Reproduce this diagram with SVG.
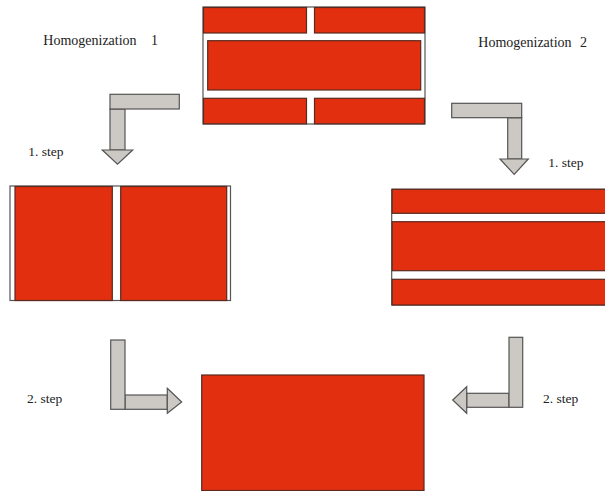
<svg xmlns="http://www.w3.org/2000/svg" width="605" height="491" viewBox="0 0 605 491">
<style>
.brick{fill:#E12F10;stroke:#5a2a1e;stroke-width:1.2}
.frame{fill:#fff;stroke:#555;stroke-width:1.2}
.arr{fill:#CCC8C4;stroke:#555;stroke-width:1.2;stroke-linejoin:miter}
.lbl{font-family:"Liberation Serif","Times New Roman",serif;font-size:14px;fill:#222}
.stp{font-family:"Liberation Serif","Times New Roman",serif;font-size:13.5px;fill:#222}
</style>
<rect width="605" height="491" fill="#fff"/>
<g id="top-node">
<rect class="frame" x="203" y="7" width="222" height="117"/>
<rect class="brick" x="203.5" y="7.5" width="103" height="25.5"/>
<rect class="brick" x="314.5" y="7.5" width="110" height="25.5"/>
<rect class="brick" x="207.7" y="40.7" width="213" height="49.3"/>
<rect class="brick" x="203.5" y="98.3" width="103" height="25.5"/>
<rect class="brick" x="314.5" y="98.3" width="110" height="25.5"/>
</g>
<g id="left-node">
<rect class="frame" x="10" y="186" width="220.5" height="114.5"/>
<rect class="brick" x="15" y="186.5" width="97.3" height="114"/>
<rect class="brick" x="120.7" y="186.5" width="106" height="114"/>
</g>
<g id="right-node">
<rect class="frame" x="391.7" y="189.3" width="220" height="115.7"/>
<rect class="brick" x="392.2" y="189.3" width="220" height="24"/>
<rect class="brick" x="392.2" y="221.7" width="220" height="49"/>
<rect class="brick" x="392.2" y="279.3" width="220" height="25.7"/>
</g>
<g id="bottom-node">
<rect class="brick" x="201.7" y="375" width="222.3" height="115.5"/>
</g>
<g id="connectors">
<g id="arrow-h1-step1">
<rect class="arr" x="110" y="109" width="15" height="41"/>
<rect class="arr" x="110" y="94.3" width="69.3" height="14.7"/>
<polygon class="arr" points="102.3,150 132.7,150 117.5,164.3"/>
</g>
<g id="arrow-h2-step1">
<rect class="arr" x="507.7" y="117.7" width="14" height="41.3"/>
<rect class="arr" x="451.7" y="103.3" width="70" height="14.4"/>
<polygon class="arr" points="500,159 528.3,159 514.2,174.3"/>
</g>
<g id="arrow-h1-step2">
<rect class="arr" x="125" y="395" width="42.3" height="14.3"/>
<rect class="arr" x="110.7" y="340" width="14.3" height="69.3"/>
<polygon class="arr" points="167.3,388.3 181.7,402 167.3,413.3"/>
</g>
<g id="arrow-h2-step2">
<rect class="arr" x="466.7" y="393.3" width="42.3" height="14"/>
<rect class="arr" x="509" y="337.3" width="13.7" height="70"/>
<polygon class="arr" points="466.7,386.7 452.7,400 466.7,413.3"/>
</g>
</g>
<g id="labels">
<text class="lbl" x="43.3" y="45">Homogenization<tspan x="151">1</tspan></text>
<text class="lbl" x="478.3" y="47">Homogenization<tspan x="580">2</tspan></text>
<text class="stp" x="28.3" y="155.5">1. step</text>
<text class="stp" x="548.3" y="166.5">1. step</text>
<text class="stp" x="27" y="402.5">2. step</text>
<text class="stp" x="543" y="402.5">2. step</text>
</g>
</svg>
